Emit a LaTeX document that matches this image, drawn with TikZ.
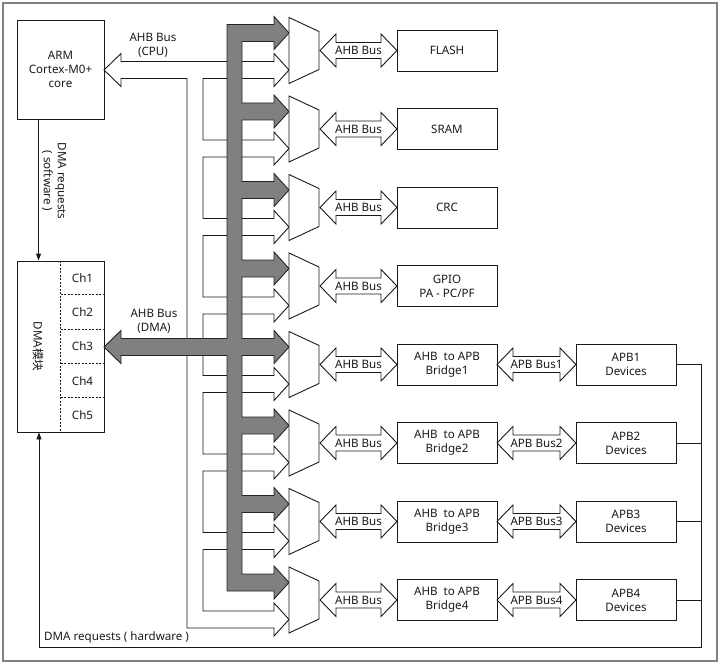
\documentclass[tikz,border=0pt]{standalone}
\usepackage{fontspec}
\setmainfont{Noto Sans}
\newfontfamily\cjkfont{Noto Sans CJK SC}
\usetikzlibrary{arrows.meta}
\newcommand\mydblarrow[4]{%
  \draw[#4] (#1,#3) -- ({#1+16},{#3-16.5}) -- ({#1+16},{#3-8}) -- ({#2-16},{#3-8}) -- ({#2-16},{#3-16.5}) -- (#2,#3) -- ({#2-16},{#3+16.5}) -- ({#2-16},{#3+8}) -- ({#1+16},{#3+8}) -- ({#1+16},{#3+16.5}) -- cycle;}
\begin{document}
\begin{tikzpicture}[x=1pt,y=-1pt,
  font=\fontsize{11.6}{14}\selectfont,
  ln/.style={draw=black!90, line width=0.9pt},
  box/.style={ln, minimum width=100pt, minimum height=41pt, inner sep=0pt, align=center, text=black!90},
  lbl/.style={align=center, inner sep=0pt, text=black!90},
  hollow/.style={ln, fill=white, line join=miter},
  graybus/.style={draw=black!85, line width=0.9pt, fill=black!50, line join=miter},
  muxst/.style={ln, fill=white},
  req/.style={ln, -{Triangle[length=7pt,width=5pt]}},
  dsh/.style={draw=black!90, line width=0.7pt, dash pattern=on 2pt off 1.5pt},
  frame/.style={draw=black!50, line width=1.6pt}]
\useasboundingbox (0,0) rectangle (720,663);
\draw[frame] (3,3) rectangle (717,661);

% left blocks
\node[box, minimum width=87pt, minimum height=99pt] (arm) at (60.5,69.5) {ARM\\Cortex-M0+\\core};
\node[box, minimum width=87pt, minimum height=171pt] (dma) at (60.5,346.5) {};
\node[lbl, rotate=-90] (dmatxt) at (38,346.5) {DMA{\cjkfont 模块}};
\draw[dsh] ([xshift=44pt]dma.north west) -- ([xshift=44pt]dma.south west);
\foreach \k in {1,2,3,4} {
  \draw[dsh] ([xshift=44pt,yshift={-34.2pt*\k}]dma.north west) -- ([yshift={-34.2pt*\k}]dma.north east);
}
\foreach \k in {1,...,5} {
  \node[lbl] (ch\k) at (82.5,{261+34.2*(\k-0.5)}) {Ch\k};
}

% hollow CPU bus
\draw[hollow] (274,61.5) -- (121,61.5) -- (121,53.5) -- (104,70) -- (121,86.5) -- (121,78.5) -- (187,78.5) -- (187,628) -- (274,628) -- (274,636) -- (289,619.5) -- (274,603) -- (274,611) -- (203,611)
  \foreach \c in {521.5,443,364.5,286,207.5,129} { -- (203,{\c+28}) -- (274,{\c+28}) -- (274,{\c+36}) -- (289,{\c+19.5}) -- (274,{\c+3}) -- (274,{\c+11}) -- (203,{\c+11}) }
  -- (203,78.5) -- (274,78.5) -- (274,86.5) -- (289,70) -- (274,53.5) -- cycle;

% gray DMA bus
\draw[graybus] (227,24.5)
  \foreach \c in {50.5,129,207.5,286,364.5,443,521.5} { -- (274,{\c-26}) -- (274,{\c-34}) -- (289,{\c-17.5}) -- (274,{\c-1}) -- (274,{\c-9}) -- (242,{\c-9}) -- (242,{\c+52.5}) }
  -- (274,574) -- (274,566) -- (289,582.5) -- (274,599) -- (274,591) -- (227,591) -- (227,355.5) -- (121,355.5) -- (121,363.5) -- (104,347) -- (121,330.5) -- (121,338.5) -- (227,338.5) -- cycle;

\node[lbl] (cpulbl) at (153,45) {AHB Bus\\(CPU)};
\node[lbl] (dmalbl) at (154,321) {AHB Bus\\(DMA)};

% muxes and AHB buses
\foreach \c [count=\i] in {50.5,129,207.5,286,364.5,443,521.5,600} {
  \draw[muxst] (289,{\c-33}) -- (319,{\c-19}) -- (319,{\c+19}) -- (289,{\c+33}) -- cycle;
  \mydblarrow{320}{397}{\c}{hollow}
  \node[lbl] (ahbl\i) at (358.5,\c) {AHB Bus};
}

% right boxes
\node[box] (flash) at (447,50.5) {FLASH};
\node[box] (sram) at (447,129) {SRAM};
\node[box] (crc) at (447,207.5) {CRC};
\node[box] (gpio) at (447,286) {GPIO\\PA - PC/PF};
\foreach \c/\nn in {364.5/1,443/2,521.5/3,600/4} {
  \node[box] (br\nn) at (447,\c) {AHB\ \ to APB\\Bridge\nn};
  \node[box] (apb\nn) at (626,\c) {APB\nn\\Devices};
  \mydblarrow{497}{576}{\c}{hollow}
  \node[lbl] (apbl\nn) at (536.5,\c) {APB Bus\nn};
}

% DMA requests
\draw[req] ([xshift=22pt]arm.south west) -- ([xshift=22pt]dma.north west);
\node[lbl, rotate=-90] (swlbl) at (54,181) {DMA requests\\( software )};

\coordinate (hwc) at (701,647);
\coordinate (hwl) at (39,647);
\draw[req] (apb1.east) -- (apb1.east -| hwc) -- (hwc) -- (hwl) -- (hwl |- dma.south);
\foreach \nn in {2,3,4} { \draw[ln] (apb\nn.east) -- (apb\nn.east -| hwc); }
\node[lbl, anchor=west] (hwlbl) at (44,637) {DMA requests ( hardware )};
\end{tikzpicture}
\end{document}
